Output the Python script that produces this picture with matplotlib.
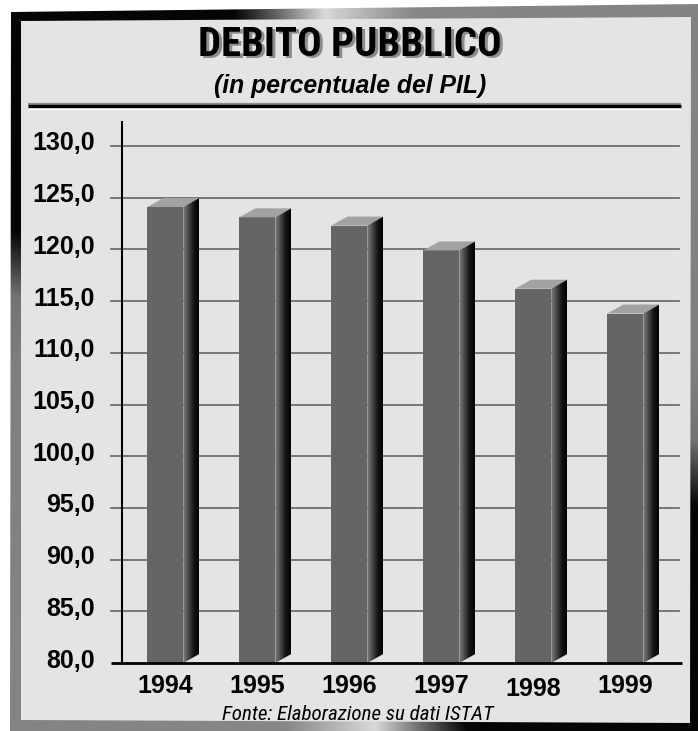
import os
import numpy as np
import matplotlib
matplotlib.use("Agg")
import matplotlib.pyplot as plt
from matplotlib.patches import Polygon
from matplotlib.colors import LinearSegmentedColormap
from matplotlib.transforms import ScaledTranslation
from matplotlib import font_manager as fm
from matplotlib.font_manager import FontProperties

# ---------------- data ----------------
years = ["1994", "1995", "1996", "1997", "1998", "1999"]
debt = [124.1, 123.1, 122.3, 119.9, 116.2, 113.8]
yticks = [80, 85, 90, 95, 100, 105, 110, 115, 120, 125, 130]
ytick_labels = ["80,0", "85,0", "90,0", "95,0", "100,0", "105,0", "110,0",
                "115,0", "120,0", "125,0", "130,0"]
title = "DEBITO PUBBLICO"
subtitle = "(in percentuale del PIL)"
source = "Fonte: Elaborazione su dati ISTAT"

# ---------------- fonts ----------------
files = [f.fname for f in fm.fontManager.ttflist]


def find_file(patterns):
    for p in patterns:
        for f in files:
            if p.lower() in os.path.basename(f).lower():
                return f
    return None


title_file = find_file(["NotoSans-ExtraCondensedBlack", "NotoSans-CondensedBlack",
                        "NotoSans-ExtraCondensedExtraBold", "NotoSans-CondensedExtraBold",
                        "RobotoCondensed-Black", "RobotoCondensed-Bold",
                        "NotoSans-CondensedBold", "LiberationSansNarrow-Bold.",
                        "DejaVuSansCondensed-Bold.", "OpenSans-CondBold",
                        "NotoSans-SemiCondensedBlack", "NotoSans-SemiCondensedBold"])
src_file = find_file(["NotoSans-CondensedItalic", "RobotoCondensed-Italic",
                      "LiberationSansNarrow-Italic", "DejaVuSansCondensed-Oblique",
                      "NotoSans-SemiCondensedItalic"])
if title_file:
    title_fp = FontProperties(fname=title_file)
else:
    title_fp = FontProperties(family="Liberation Sans", weight="bold")
if src_file:
    src_fp = FontProperties(fname=src_file)
else:
    src_fp = FontProperties(family="Liberation Sans", style="italic")
SANS = "Liberation Sans"

W, H = 698, 731
DPI = 100
fig = plt.figure(figsize=(W / DPI, H / DPI), dpi=DPI)
fig.patch.set_facecolor("white")

# ---------------- background / frame (pixel coordinates) ----------------
bg = fig.add_axes([0, 0, 1, 1])
bg.set_xlim(0, W)
bg.set_ylim(H, 0)
bg.axis("off")

outer = [(11, 12), (698, 4), (698, 731), (10, 731)]
inner = [(21, 21), (691, 17), (690, 723), (21, 720)]

yy, xx = np.mgrid[0:H, 0:W]
cx, cy = 349.0, 366.0
ang = np.degrees(np.arctan2(yy - cy, xx - cx)) % 180.0
val = np.interp(ang, [0, 12, 22, 72, 86, 100, 180],
                [0.50, 0.45, 0.02, 0.02, 0.85, 0.53, 0.50])
img = np.dstack([val, val, val])
im = bg.imshow(img, extent=[0, W, H, 0], interpolation="bilinear", zorder=1)
op = Polygon(outer, closed=True, facecolor="none", edgecolor="none")
bg.add_patch(op)
im.set_clip_path(op)
bg.add_patch(Polygon(inner, closed=True, facecolor="#e4e4e4",
                     edgecolor="none", zorder=2))

# rule under subtitle
bg.plot([28, 681], [103.5, 103.5], color="#8a8a8a", lw=1.6, zorder=3,
        solid_capstyle="butt")
bg.plot([28, 681], [106, 106], color="black", lw=2.4, zorder=3,
        solid_capstyle="butt")
bg.plot([28, 681], [108.5, 108.5], color="white", lw=1.0, zorder=3,
        solid_capstyle="butt")

# texts
t_sh = bg.text(352.5, 47.5, title, ha="center", va="center", fontproperties=title_fp,
               color="#8c8c8c", zorder=3)
t_ti = bg.text(350, 45, title, ha="center", va="center", fontproperties=title_fp,
               color="black", zorder=4)
t_sub = bg.text(350, 86, subtitle, ha="center", va="center", fontsize=17,
                fontweight="bold", style="italic", family=SANS, color="black",
                zorder=4)
t_src = bg.text(358, 714, source, ha="center", va="center",
                fontproperties=src_fp, color="black", zorder=4)
t_ti.set_fontsize(34)
t_sh.set_fontsize(34)
t_src.set_fontsize(14)


def fit_width(arts, target):
    fig.canvas.draw()
    w = arts[0].get_window_extent().width
    for a in arts:
        a.set_fontsize(a.get_fontsize() * target / w)


fit_width([t_ti, t_sh], 303)
fit_width([t_sub], 273)
fit_width([t_src], 273)

# ---------------- chart axes ----------------
L, R, B, T = 122, 682, 663, 122
ax = fig.add_axes([L / W, (H - B) / H, (R - L) / W, (B - T) / H])
ax.patch.set_alpha(0)
ymin = 80.0
ppu = 10.34  # pixels per unit
spacing = 92.0
first = 165.3
xmin = -(first - L) / spacing

front_w = 36 / spacing
dx = 16 / spacing
dy = 9 / ppu

for s in ["top", "right", "bottom"]:
    ax.spines[s].set_visible(False)
ax.spines["left"].set_linewidth(1.5)
ax.spines["left"].set_color("black")

# gridlines
gx0 = (111 - L) / (R - L)
gx1 = (679 - L) / (R - L)
for v in yticks[1:]:
    ax.plot([gx0, gx1], [v, v], transform=ax.get_yaxis_transform(),
            color="#6e6e6e", lw=1.3, zorder=1, clip_on=False)
# x axis line
ax.plot([gx0, 1.0], [ymin, ymin], transform=ax.get_yaxis_transform(),
        color="black", lw=2.0, zorder=6, clip_on=False, solid_capstyle="butt")

side_cmap = LinearSegmentedColormap.from_list(
    "side", ["#808080", "#4a4a4a", "#161616", "#000000"])
grad = np.linspace(0, 1, 64).reshape(1, -1)

for i, v in enumerate(debt):
    x0 = i - front_w / 2
    x1 = i + front_w / 2
    ax.add_patch(Polygon([(x0, ymin), (x1, ymin), (x1, v), (x0, v)],
                         closed=True, facecolor="#656565", edgecolor="none",
                         zorder=3))
    ax.add_patch(Polygon([(x0, v), (x1, v), (x1 + dx, v + dy), (x0 + dx, v + dy)],
                         closed=True, facecolor="#a2a2a2", edgecolor="none",
                         zorder=3))
    side = Polygon([(x1, ymin), (x1 + dx, ymin + dy), (x1 + dx, v + dy), (x1, v)],
                   closed=True, facecolor="none", edgecolor="none", zorder=3)
    ax.add_patch(side)
    sim = ax.imshow(grad, cmap=side_cmap, extent=[x1, x1 + dx, ymin, v + dy],
                    aspect="auto", interpolation="bilinear", zorder=3)
    sim.set_clip_path(side)

ax.set_xlim(xmin, xmin + (R - L) / spacing)
ax.set_ylim(ymin, ymin + (B - T) / ppu)

ax.set_yticks(yticks)
ax.set_yticklabels(ytick_labels)
ax.set_xticks(range(len(years)))
ax.set_xticklabels(years)
ax.tick_params(axis="y", length=0, pad=19.5, labelsize=18)
ax.tick_params(axis="x", length=0, pad=8, labelsize=18)
for lab in ax.get_yticklabels() + ax.get_xticklabels():
    lab.set_fontfamily(SANS)
    lab.set_fontweight("bold")
for lab in ax.get_yticklabels():
    lab.set_transform(lab.get_transform() +
                      ScaledTranslation(0, 5 / DPI, fig.dpi_scale_trans))
xl = ax.get_xticklabels()
xl[4].set_transform(xl[4].get_transform() +
                    ScaledTranslation(0, -3 / DPI, fig.dpi_scale_trans))

fig.savefig("out.png", dpi=DPI, facecolor="white")
